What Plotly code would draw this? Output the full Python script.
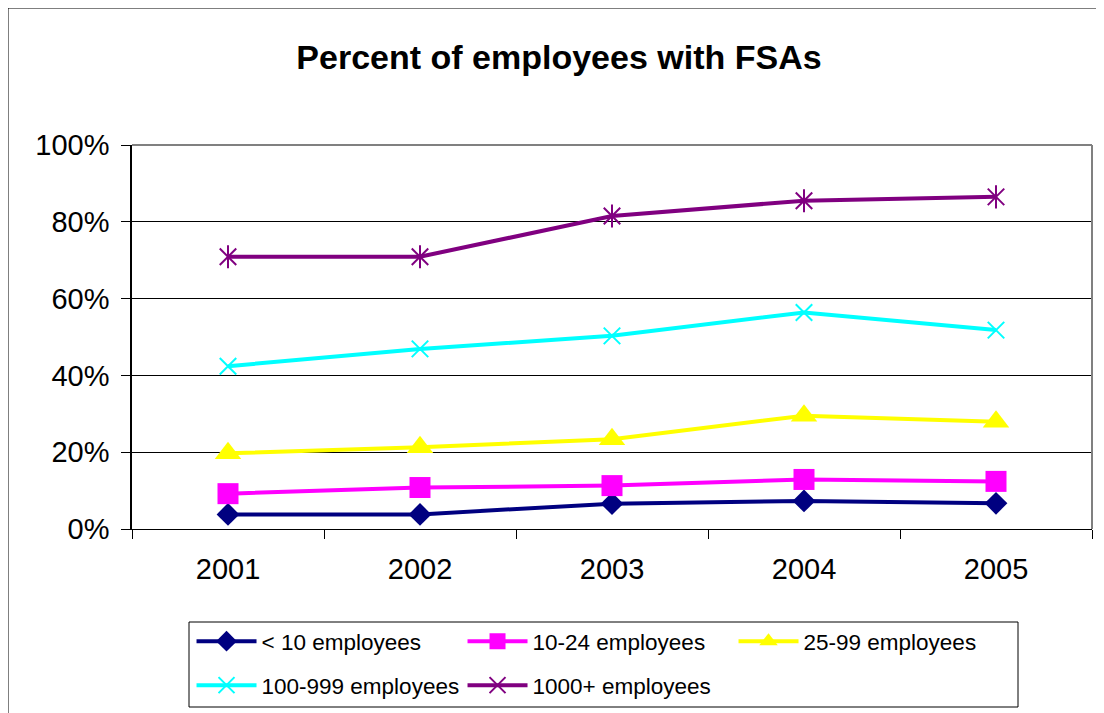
import plotly.graph_objects as go

years = ["2001", "2002", "2003", "2004", "2005"]
series_names = ["< 10 employees", "10-24 employees", "25-99 employees",
                "100-999 employees", "1000+ employees"]
lt10 = [0.038, 0.038, 0.066, 0.073, 0.067]
s10_24 = [0.092, 0.108, 0.113, 0.129, 0.124]
s25_99 = [0.197, 0.213, 0.234, 0.295, 0.279]
s100_999 = [0.424, 0.469, 0.503, 0.564, 0.518]
s1000 = [0.709, 0.709, 0.815, 0.855, 0.865]
y_ticks = [0, 0.2, 0.4, 0.6, 0.8, 1.0]

FONT = "Liberation Sans, Arial, sans-serif"

fig = go.Figure()

def add(name, vals, color, symbol, size, legend, open_marker=False):
    marker = dict(symbol=symbol, size=size, color=color)
    if open_marker:
        marker["line"] = dict(color=color, width=2)
    else:
        marker["line"] = dict(width=0)
    fig.add_trace(go.Scatter(x=years, y=vals, name=name, mode="lines+markers",
                             line=dict(color=color, width=4), marker=marker,
                             legend=legend))

add(series_names[0], lt10, "#000080", "diamond", 17.5, "legend")
add(series_names[1], s10_24, "#FF00FF", "square", 21, "legend")
add(series_names[2], s25_99, "#FFFF00", "triangle-up", 23, "legend")
add(series_names[3], s100_999, "#00FFFF", "x-thin-open", 16.5, "legend2", True)
add(series_names[4], s1000, "#800080", "x-thin-open", 16.5, "legend2", True)
# vertical stroke to make the Excel-style asterisk
fig.add_trace(go.Scatter(x=years, y=s1000, mode="markers", showlegend=False,
                         marker=dict(symbol="line-ns-open", size=16.5, color="#800080",
                                     line=dict(color="#800080", width=2)),
                         hoverinfo="skip"))

W, H = 1096, 705
fig.update_layout(
    width=W, height=H,
    margin=dict(l=124, r=12, t=137, b=184, autoexpand=False),
    paper_bgcolor="white", plot_bgcolor="white",
    font=dict(family=FONT, color="black"),
    title=dict(text="<b>Percent of employees with FSAs</b>", x=551 / W, xref="container",
               xanchor="center", y=1 - 49 / H, yref="container", yanchor="middle",
               font=dict(size=34, family=FONT, color="black")),
    xaxis=dict(type="category", range=[-0.5, 4.5], tickson="boundaries",
               ticks="outside", ticklen=9, tickcolor="black", tickwidth=1,
               ticklabelstandoff=14,
               showline=True, linecolor="black", linewidth=1, showgrid=False,
               tickfont=dict(size=29, family=FONT, color="black"), zeroline=False),
    yaxis=dict(range=[0, 1], tickvals=y_ticks, tickformat=".0%",
               ticks="outside", ticklen=9, tickcolor="black", tickwidth=1,
               ticklabelstandoff=6,
               showline=True, linecolor="black", linewidth=1.5,
               showgrid=True, gridcolor="#000000", gridwidth=1, zeroline=False,
               tickfont=dict(size=29, family=FONT, color="black")),
    legend=dict(orientation="h", x=0.062, y=-0.237, xanchor="left", yanchor="top",
                font=dict(size=22.5, family=FONT, color="black"),
                itemwidth=60, entrywidth=196, bgcolor="rgba(0,0,0,0)",
                borderwidth=0),
    legend2=dict(orientation="h", x=0.062, y=-0.3516, xanchor="left", yanchor="top",
                 font=dict(size=22.5, family=FONT, color="black"),
                 itemwidth=60, entrywidth=196, bgcolor="rgba(0,0,0,0)",
                 borderwidth=0),
    showlegend=True,
)

# plot-area top and right borders (grey)
fig.add_shape(type="line", xref="paper", yref="paper", x0=0, x1=1, y0=1, y1=1,
              line=dict(color="#808080", width=2))
fig.add_shape(type="line", xref="paper", yref="paper", x0=1, x1=1, y0=0, y1=1,
              line=dict(color="#808080", width=2))
# legend box
fig.add_shape(type="rect", xref="paper", yref="paper",
              x0=(189 - 132) / 960, x1=(1018 - 132) / 960,
              y0=(529 - 707) / 384, y1=(529 - 622) / 384,
              line=dict(color="black", width=1))
# outer chart border
fig.add_shape(type="rect", xref="paper", yref="paper",
              x0=(8 - 132) / 960, x1=(1120 - 132) / 960,
              y0=(529 - 730) / 384, y1=(529 - 8) / 384,
              line=dict(color="black", width=1))

fig.write_html("out.html")
